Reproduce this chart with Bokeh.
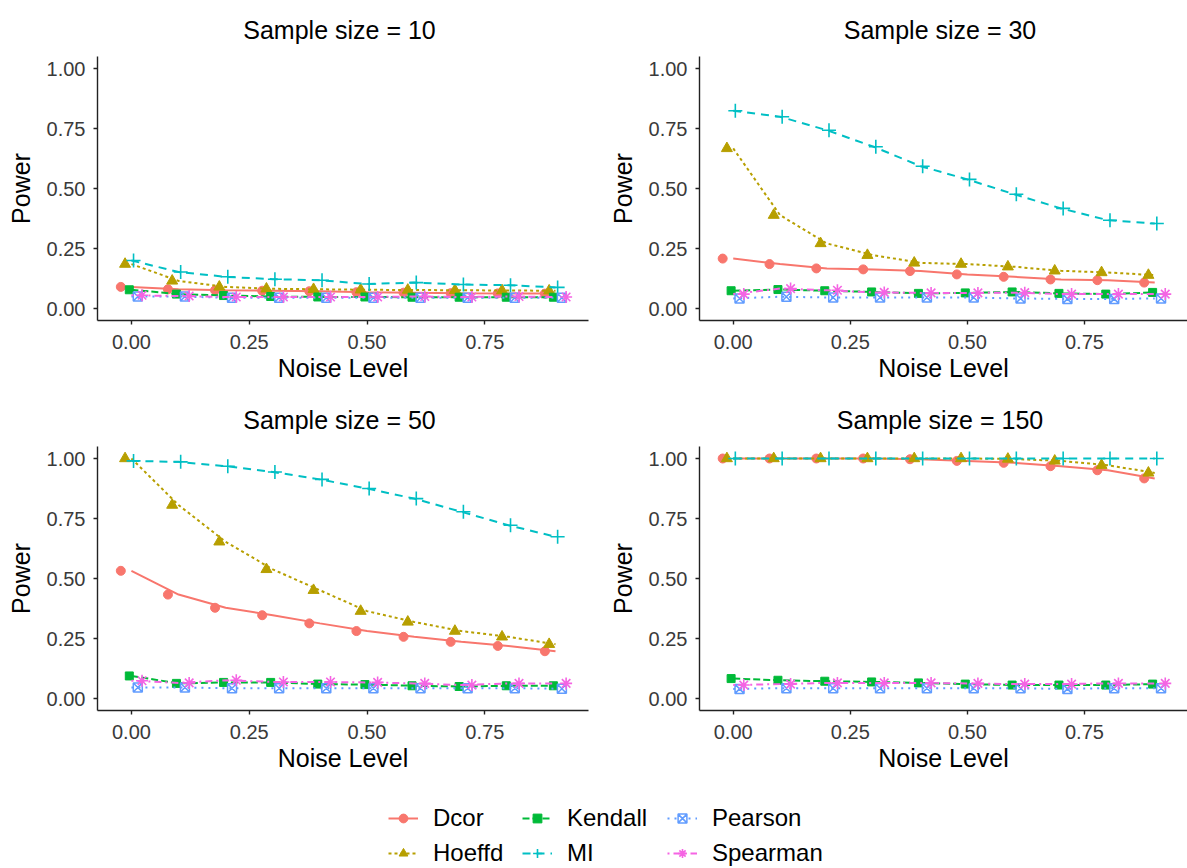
from bokeh.plotting import figure
from bokeh.layouts import column, row
from bokeh.models import FixedTicker, PrintfTickFormatter, Legend, LegendItem, Range1d
from bokeh.embed import file_html
from bokeh.resources import INLINE

# ---------------- data ----------------
noise_level = [0.0, 0.1, 0.2, 0.3, 0.4, 0.5, 0.6, 0.7, 0.8, 0.9]
methods = ["Dcor", "Hoeffd", "Kendall", "MI", "Pearson", "Spearman"]
sample_sizes = [10, 30, 50, 150]

dcor_10 = [0.090, 0.080, 0.076, 0.074, 0.072, 0.068, 0.066, 0.064, 0.063, 0.062]
hoeffd_10 = [0.185, 0.115, 0.090, 0.082, 0.080, 0.078, 0.077, 0.076, 0.075, 0.074]
kendall_10 = [0.078, 0.060, 0.054, 0.050, 0.048, 0.048, 0.047, 0.047, 0.047, 0.047]
mi_10 = [0.200, 0.152, 0.132, 0.122, 0.118, 0.102, 0.108, 0.100, 0.097, 0.088]
pearson_10 = [0.050, 0.050, 0.045, 0.045, 0.045, 0.045, 0.045, 0.045, 0.045, 0.045]
spearman_10 = [0.055, 0.052, 0.048, 0.048, 0.048, 0.048, 0.050, 0.048, 0.050, 0.048]

dcor_30 = [0.208, 0.185, 0.167, 0.163, 0.156, 0.142, 0.132, 0.121, 0.118, 0.108]
hoeffd_30 = [0.667, 0.389, 0.271, 0.222, 0.190, 0.185, 0.174, 0.157, 0.150, 0.139]
kendall_30 = [0.074, 0.079, 0.074, 0.069, 0.063, 0.065, 0.069, 0.063, 0.060, 0.067]
mi_30 = [0.824, 0.799, 0.743, 0.674, 0.593, 0.538, 0.476, 0.417, 0.368, 0.354]
pearson_30 = [0.042, 0.049, 0.046, 0.046, 0.046, 0.046, 0.042, 0.040, 0.040, 0.042]
spearman_30 = [0.060, 0.083, 0.076, 0.067, 0.065, 0.065, 0.066, 0.060, 0.060, 0.060]

dcor_50 = [0.532, 0.433, 0.378, 0.347, 0.313, 0.281, 0.257, 0.236, 0.219, 0.197]
hoeffd_50 = [1.000, 0.806, 0.653, 0.538, 0.451, 0.364, 0.319, 0.281, 0.257, 0.226]
kendall_50 = [0.094, 0.063, 0.067, 0.067, 0.060, 0.058, 0.053, 0.050, 0.053, 0.053]
mi_50 = [0.990, 0.986, 0.968, 0.944, 0.913, 0.875, 0.833, 0.778, 0.722, 0.674]
pearson_50 = [0.046, 0.046, 0.043, 0.043, 0.043, 0.043, 0.043, 0.043, 0.043, 0.041]
spearman_50 = [0.074, 0.065, 0.076, 0.069, 0.069, 0.067, 0.063, 0.056, 0.063, 0.063]

dcor_150 = [1.000, 1.000, 1.000, 1.000, 0.997, 0.990, 0.982, 0.968, 0.951, 0.917]
hoeffd_150 = [1.000, 1.000, 1.000, 1.000, 1.000, 1.000, 0.998, 0.990, 0.972, 0.940]
kendall_150 = [0.083, 0.076, 0.072, 0.069, 0.065, 0.060, 0.056, 0.056, 0.056, 0.060]
mi_150 = [1.000, 1.000, 1.000, 1.000, 1.000, 1.000, 1.000, 1.000, 1.000, 1.000]
pearson_150 = [0.040, 0.043, 0.043, 0.043, 0.043, 0.043, 0.043, 0.040, 0.043, 0.043]
spearman_150 = [0.056, 0.060, 0.065, 0.065, 0.065, 0.063, 0.060, 0.060, 0.063, 0.063]

panel_data = {
    10: [dcor_10, hoeffd_10, kendall_10, mi_10, pearson_10, spearman_10],
    30: [dcor_30, hoeffd_30, kendall_30, mi_30, pearson_30, spearman_30],
    50: [dcor_50, hoeffd_50, kendall_50, mi_50, pearson_50, spearman_50],
    150: [dcor_150, hoeffd_150, kendall_150, mi_150, pearson_150, spearman_150],
}

# ---------------- style ----------------
FONT = "Liberation Sans"
colors = ["#F8766D", "#B79F00", "#00BA38", "#00BFC4", "#619CFF", "#F564E3"]
dashes = ["solid", "3 3", "7 3", "8 6", "2 5", "2 4 7 4"]
markers = ["circle", "triangle", "square", "cross", "square_x", "asterisk"]
msizes = [9, 11, 8, 14, 9, 12]
dodge_step = 0.009  # position dodge
LW = 2.0


def style_marker_kwargs(i):
    c = colors[i]
    if markers[i] in ("circle", "triangle", "square"):
        return dict(marker=markers[i], size=msizes[i], fill_color=c, line_color=c, line_width=1)
    if markers[i] == "square_x":
        return dict(marker=markers[i], size=msizes[i], fill_color=None, line_color=c, line_width=1.5)
    return dict(marker=markers[i], size=msizes[i], line_color=c, line_width=1.6)


def make_panel(n, col):
    if col == 0:
        width, left, right = 600, 97, 12
    else:
        width, left, right = 587, 99, 0
    p = figure(width=width, height=390, output_backend="svg", toolbar_location=None,
               x_range=Range1d(-0.072, 0.97), y_range=Range1d(-0.05, 1.05),
               min_border_left=left, min_border_right=right,
               min_border_top=56, min_border_bottom=70,
               background_fill_color="white", border_fill_color="white")
    p.outline_line_color = None
    p.xgrid.visible = False
    p.ygrid.visible = False

    p.title.text = f"Sample size =  {n}"
    p.title.align = "center"
    p.title.text_font = FONT
    p.title.text_font_size = "25px"
    p.title.text_font_style = "normal"
    p.title.text_color = "black"
    p.title.standoff = 26

    p.xaxis.ticker = FixedTicker(ticks=[0, 0.25, 0.5, 0.75])
    p.yaxis.ticker = FixedTicker(ticks=[0, 0.25, 0.5, 0.75, 1.0])
    p.xaxis.formatter = PrintfTickFormatter(format="%.2f")
    p.yaxis.formatter = PrintfTickFormatter(format="%.2f")
    p.xaxis.axis_label = "Noise Level"
    p.yaxis.axis_label = "Power"
    for ax in (p.xaxis[0], p.yaxis[0]):
        ax.axis_line_color = "#222222"
        ax.axis_line_width = 1.4
        ax.major_tick_line_color = "#222222"
        ax.major_tick_line_width = 1.4
        ax.major_tick_out = 4
        ax.major_tick_in = 0
        ax.minor_tick_line_color = None
        ax.major_label_text_font = FONT
        ax.major_label_text_font_size = "20px"
        ax.major_label_text_color = "#3a3a3a"
        ax.axis_label_text_font = FONT
        ax.axis_label_text_font_size = "25px"
        ax.axis_label_text_font_style = "normal"
        ax.axis_label_text_color = "black"
    p.xaxis.major_label_standoff = 10
    p.xaxis.axis_label_standoff = 2
    p.yaxis.major_label_standoff = 8
    p.yaxis.axis_label_standoff = 9

    for i, vals in enumerate(panel_data[n]):
        p.line(noise_level, vals, line_color=colors[i], line_width=LW, line_dash=dashes[i])
        xd = [x + (i - 2.5) * dodge_step for x in noise_level]
        p.scatter(xd, vals, **style_marker_kwargs(i))
    return p


panels = [make_panel(n, k % 2) for k, n in enumerate(sample_sizes)]

# ---------------- legend ----------------
lg = figure(width=1187, height=88, output_backend="svg", toolbar_location=None,
            x_range=Range1d(0, 1), y_range=Range1d(0, 1),
            x_axis_type=None, y_axis_type=None, min_border=0,
            background_fill_color="white", border_fill_color="white")
lg.outline_line_color = None
lg.xgrid.visible = False
lg.ygrid.visible = False

items = []
for i, m in enumerate(methods):
    rl = lg.line([-5, -4], [-5, -4], line_color=colors[i], line_width=LW, line_dash=dashes[i])
    rs = lg.scatter([-5], [-5], **style_marker_kwargs(i))
    items.append(LegendItem(label=m, renderers=[rl, rs]))

legend_x = [388, 522, 667]
for c in range(3):
    leg = Legend(items=items[2 * c:2 * c + 2], location=(legend_x[c], 0),
                 orientation="vertical", glyph_width=30, glyph_height=22,
                 label_height=30, label_standoff=15, spacing=5, padding=0, margin=0,
                 label_text_font=FONT, label_text_font_size="24px",
                 label_text_color="black", border_line_color=None,
                 background_fill_alpha=0)
    lg.add_layout(leg)

layout = column(row(panels[0], panels[1]), row(panels[2], panels[3]), lg)
open("out.html", "w").write(file_html(layout, INLINE))
